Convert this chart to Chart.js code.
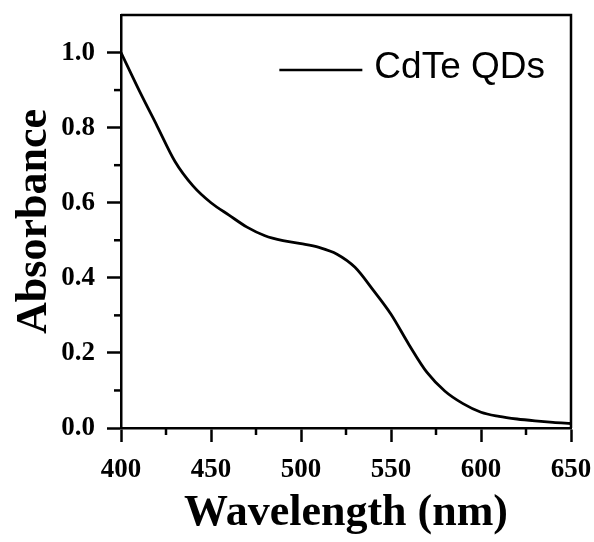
<!DOCTYPE html>
<html>
<head>
<meta charset="utf-8">
<script src="https://cdn.jsdelivr.net/npm/chart.js"></script>
<style>
  body { margin: 0; background: #fff; }
</style>
</head>
<body>
<canvas id="absChart" width="594" height="542"></canvas>
<script>
// wavelength (nm) and absorbance
const wavelengths = [400, 410, 420, 430, 440, 450, 460, 470, 480, 490, 500, 510, 520, 530, 540, 550, 560, 570, 580, 590, 600, 610, 620, 630, 640, 650];
const absorbance = [1.0, 0.90, 0.805, 0.71, 0.645, 0.60, 0.567, 0.535, 0.512, 0.499, 0.491, 0.481, 0.463, 0.428, 0.368, 0.303, 0.222, 0.148, 0.098, 0.065, 0.042, 0.031, 0.024, 0.019, 0.015, 0.012];
const seriesLabel = 'CdTe QDs';
const xMinorTicks = [425, 475, 525, 575, 625];
const yMinorTicks = [0.1, 0.3, 0.5, 0.7, 0.9];

// frame, minor ticks and in-plot legend
const framePlugin = {
    id: 'frame',
    afterDraw(chart) {
        const ctx = chart.ctx;
        const area = chart.chartArea;
        const xs = chart.scales.x;
        const ys = chart.scales.y;
        ctx.save();
        ctx.strokeStyle = '#000';
        ctx.lineWidth = 2.5;
        ctx.beginPath();
        ctx.moveTo(area.left, area.top);
        ctx.lineTo(area.right, area.top);
        ctx.lineTo(area.right, area.bottom);
        ctx.stroke();

        xMinorTicks.forEach(v => {
            const px = xs.getPixelForValue(v);
            ctx.beginPath();
            ctx.moveTo(px, area.bottom);
            ctx.lineTo(px, area.bottom + 7);
            ctx.stroke();
        });
        yMinorTicks.forEach(v => {
            const py = ys.getPixelForValue(v);
            ctx.beginPath();
            ctx.moveTo(area.left, py);
            ctx.lineTo(area.left - 7, py);
            ctx.stroke();
        });

        // legend
        const ds = chart.data.datasets[0];
        ctx.font = '37px "Liberation Sans", Arial, sans-serif';
        ctx.fillStyle = '#000';
        ctx.textAlign = 'right';
        ctx.textBaseline = 'middle';
        const textRight = area.right - 26;
        const ly = area.top + 53;
        ctx.fillText(ds.label, textRight, ly);
        const tw = ctx.measureText(ds.label).width;
        ctx.strokeStyle = ds.borderColor;
        ctx.lineWidth = 2.5;
        ctx.beginPath();
        ctx.moveTo(textRight - tw - 12, ly + 2);
        ctx.lineTo(textRight - tw - 95, ly + 2);
        ctx.stroke();
        ctx.restore();
    }
};

const tickFont = { family: '"Liberation Serif", "Times New Roman", serif', size: 27, weight: 'bold' };
const titleFont = { family: '"Liberation Serif", "Times New Roman", serif', size: 44, weight: 'bold' };

new Chart(document.getElementById('absChart').getContext('2d'), {
    type: 'line',
    data: {
        labels: wavelengths,
        datasets: [{
            label: seriesLabel,
            data: wavelengths.map((w, i) => ({ x: w, y: absorbance[i] })),
            borderColor: '#000',
            borderWidth: 2.8,
            pointRadius: 0,
            fill: false,
            cubicInterpolationMode: 'monotone'
        }]
    },
    options: {
        responsive: false,
        animation: false,
        layout: { padding: { left: 0, right: 23, top: 15, bottom: 0 } },
        plugins: {
            legend: { display: false },
            tooltip: { enabled: false }
        },
        scales: {
            x: {
                type: 'linear',
                min: 400,
                max: 650,
                ticks: { stepSize: 50, color: '#000', font: tickFont, padding: 12, maxRotation: 0 },
                grid: { drawOnChartArea: false, tickLength: 14, tickWidth: 2.5, tickColor: '#000' },
                border: { display: true, color: '#000', width: 2.5 },
                title: { display: true, text: 'Wavelength (nm)', color: '#000', font: titleFont, padding: { top: 0, bottom: 2 } },
                afterFit: s => { s.height = 114; s.paddingLeft = 0; s.paddingRight = 0; }
            },
            y: {
                min: 0,
                max: 1.1,
                afterBuildTicks: s => { s.ticks = [0, 0.2, 0.4, 0.6, 0.8, 1.0].map(v => ({ value: v })); },
                ticks: { color: '#000', font: tickFont, padding: 12, callback: v => v.toFixed(1) },
                grid: { drawOnChartArea: false, tickLength: 14, tickWidth: 2.5, tickColor: '#000' },
                border: { display: true, color: '#000', width: 2.5 },
                title: { display: true, text: 'Absorbance', color: '#000', font: titleFont, padding: { top: 8, bottom: 0 } },
                afterFit: s => { s.width = 121; s.paddingTop = 0; s.paddingBottom = 0; }
            }
        }
    },
    plugins: [framePlugin]
});
</script>
</body>
</html>
